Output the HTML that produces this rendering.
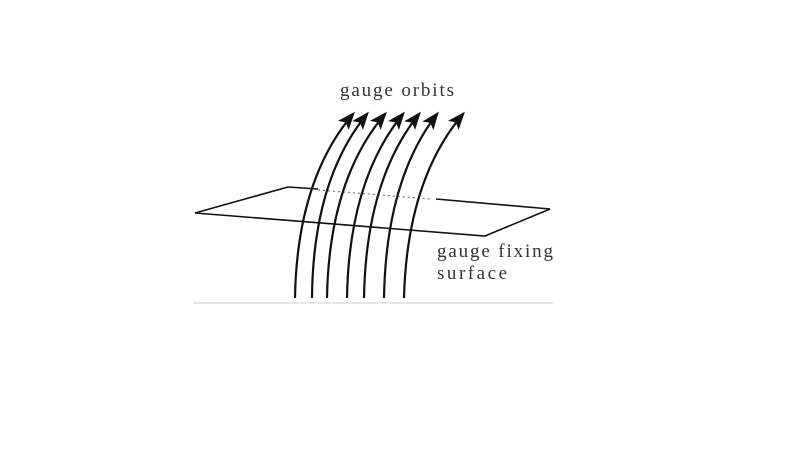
<!DOCTYPE html>
<html><head><style>
html,body{margin:0;padding:0;background:#fff;width:800px;height:452px;overflow:hidden}
svg{display:block}
text{font-family:"Liberation Serif",serif;fill:#333}
</style></head><body>
<svg width="800" height="452" viewBox="0 0 800 452">
<defs>
<marker id="a" markerWidth="18" markerHeight="14" refX="15" refY="7" orient="auto" markerUnits="userSpaceOnUse">
<path d="M0,0 L18,7 L0,14 L4,7 Z" fill="#111"/>
</marker>
</defs>
<line x1="193" y1="303" x2="553" y2="303" stroke="#ddd" stroke-width="1.5"/>
<polyline points="288,187 318,189" fill="none" stroke="#111" stroke-width="1.6"/>
<line x1="318" y1="190" x2="430" y2="199" stroke="#777" stroke-width="1.2" stroke-dasharray="2,3"/>
<polyline points="436,199 550,209 485,236 195,213 288,187" fill="none" stroke="#111" stroke-width="1.6"/>
<g fill="none" stroke="#111" stroke-width="2.2" marker-end="url(#a)">
<path d="M295,298 Q297,180 353,114"/>
<path d="M312,298 Q313,180 367,114"/>
<path d="M327,298 Q329,180 385,114"/>
<path d="M347,298 Q349,180 403,114"/>
<path d="M364,298 Q366,180 419,114"/>
<path d="M384,298 Q386,180 437,114"/>
<path d="M404,298 Q407,180 463,114"/>
</g>
<text x="340" y="96" font-size="19" textLength="114" lengthAdjust="spacing">gauge orbits</text>
<text x="437" y="257" font-size="19" textLength="116" lengthAdjust="spacing">gauge fixing</text>
<text x="437" y="279" font-size="19" textLength="70" lengthAdjust="spacing">surface</text>
</svg>
</body></html>
